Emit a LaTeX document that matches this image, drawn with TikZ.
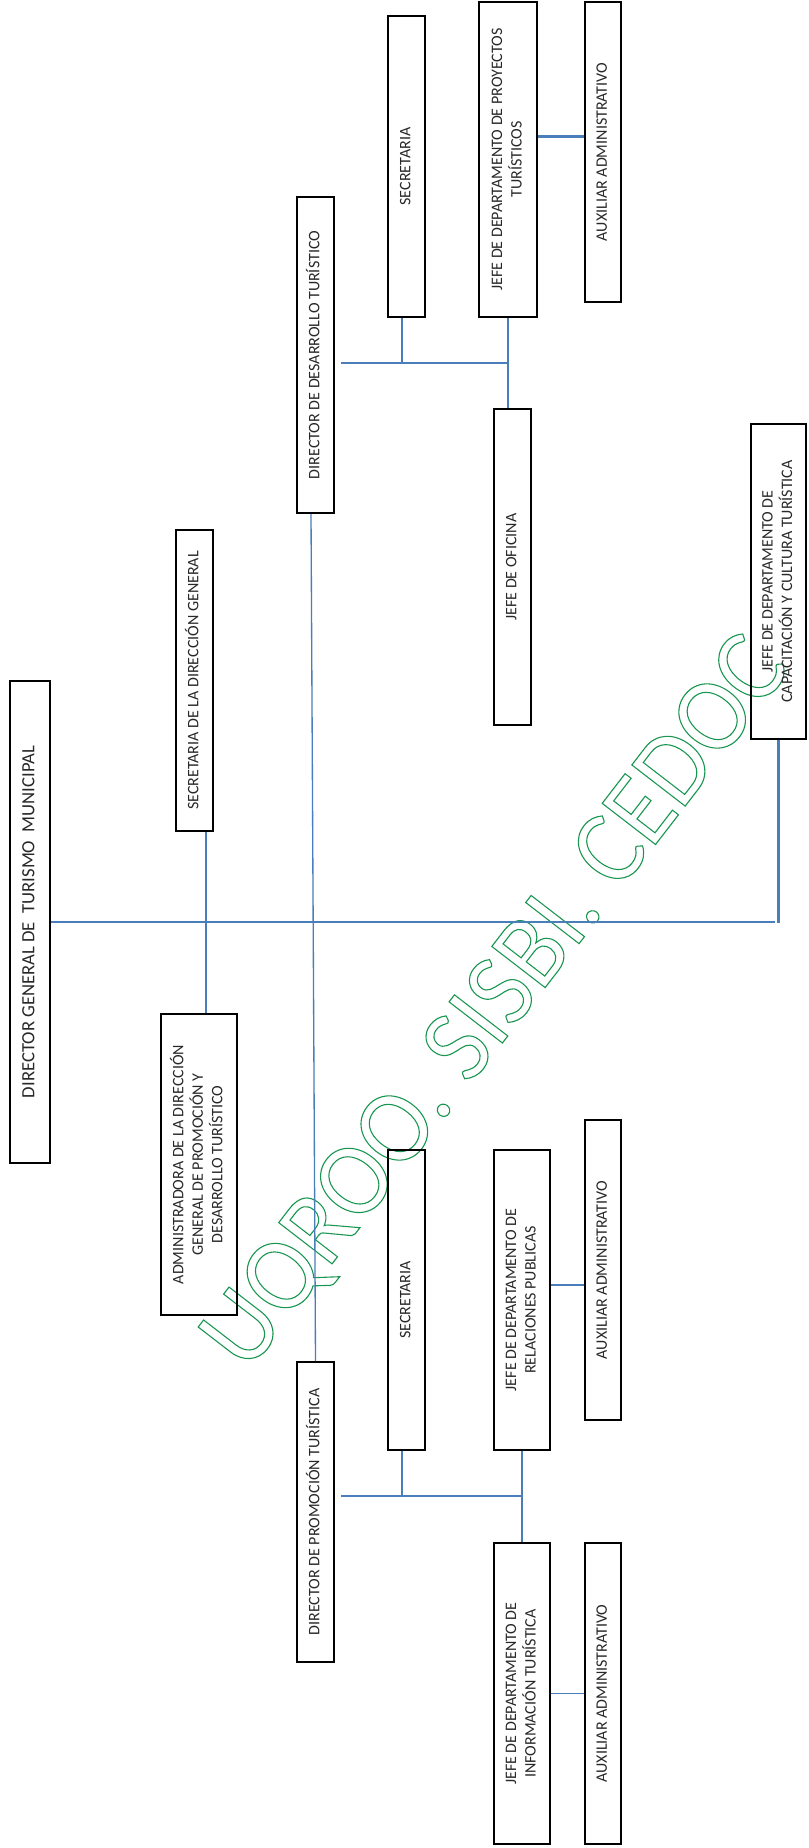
\documentclass[tikz,border=0pt]{standalone}
\usepackage{fontspec}
\setmainfont{Carlito}
\usepackage{graphicx}
\usetikzlibrary{calc}
\definecolor{lineblue}{RGB}{74,126,187}
\definecolor{wmgreen}{RGB}{24,150,80}
\definecolor{boxtext}{RGB}{40,40,40}
\tikzset{
  orgnode/.style={draw=black, line width=1.5pt, inner sep=0pt, align=center,
    text=boxtext, font=\fontsize{12}{14.6}\selectfont},
  bigtext/.style={font=\fontsize{14}{16.8}\selectfont},
  conn/.style={draw=lineblue, line width=1.3pt},
  connthick/.style={draw=lineblue, line width=2pt},
  connthin/.style={draw=lineblue, line width=1pt},
  watermark/.style={text=wmgreen, inner sep=0pt, font=\fontsize{75}{75}\selectfont},
}
% name, x1, x2, y1, y2, extra style, text
\newcommand\orgbox[7]{%
  \pgfmathsetmacro\obcx{(#2+#3)/2}%
  \pgfmathsetmacro\obcy{(#4+#5)/2}%
  \pgfmathsetmacro\obw{(#3-#2-2)*0.75}%
  \pgfmathsetmacro\obh{(#5-#4-2)*0.75}%
  \node[orgnode, #6, minimum width=\obw pt, minimum height=\obh pt] (#1) at (\obcx,\obcy)
    {\rotatebox{90}{\begin{tabular}{@{}c@{}}#7\end{tabular}}};%
}
\begin{document}
\begin{tikzpicture}[x=0.75pt, y=-0.75pt]
\useasboundingbox (0,0) rectangle (809,1848);
\fill[white] (0,0) rectangle (809,1848);

% watermark (outlined text)
\node[watermark, rotate=52.35, yscale=1.05, anchor=base west] (wm) at (247.2,1373.8)
  {\special{pdf:literal direct 1 Tr 0.8 w}UQROO. SISBI. CEDOC\special{pdf:literal direct 0 Tr}};

% boxes
\orgbox{DG}{9}{51}{680}{1164}{bigtext}{DIRECTOR GENERAL DE\ \ TURISMO\ \ MUNICIPAL}
\orgbox{SDG}{175}{214}{529}{832}{}{SECRETARIA DE LA DIRECCIÓN GENERAL}
\orgbox{ADM}{160}{238}{1013}{1316}{}{ADMINISTRADORA DE LA DIRECCIÓN\\GENERAL DE PROMOCIÓN Y\\DESARROLLO TURÍSTICO}
\orgbox{DDT}{296}{335}{196}{514}{}{DIRECTOR DE DESARROLLO TURÍSTICO}
\orgbox{DPT}{296}{335}{1361}{1663}{}{DIRECTOR DE PROMOCIÓN TURÍSTICA}
\orgbox{SECA}{387}{426}{15}{318}{}{SECRETARIA}
\orgbox{JPT}{478}{538}{1}{318}{}{JEFE DE DEPARTAMENTO DE PROYECTOS\\TURÍSTICOS}
\orgbox{AUXA}{584}{622}{1}{303}{}{AUXILIAR ADMINISTRATIVO}
\orgbox{JO}{493}{532}{408}{726}{}{JEFE DE OFICINA}
\orgbox{JCC}{750}{807}{423}{740}{}{JEFE DE DEPARTAMENTO DE\\CAPACITACIÓN Y CULTURA TURÍSTICA}
\orgbox{SECB}{387}{426}{1149}{1451}{}{SECRETARIA}
\orgbox{JRP}{493}{551}{1149}{1451}{}{JEFE DE DEPARTAMENTO DE\\RELACIONES PUBLICAS}
\orgbox{AUXB}{584}{622}{1119}{1421}{}{AUXILIAR ADMINISTRATIVO}
\orgbox{JIT}{493}{551}{1542}{1845}{}{JEFE DE DEPARTAMENTO DE\\INFORMACIÓN TURÍSTICA}
\orgbox{AUXC}{584}{622}{1542}{1845}{}{AUXILIAR ADMINISTRATIVO}

% main bus from the director general to capacitación
\path (JCC.south) ++(-3.5,0) coordinate (busR);
\draw[connthick] (DG.east) -- (DG.east -| busR);
\draw[connthick] (JCC.south) -- ++(0,183);

% secretaria de la dirección general -> administradora
\path (SDG.south) ++(11.5,0) coordinate (sa);
\draw[conn] (sa) -- (sa |- ADM.north);

% desarrollo -> promoción
\path (DDT.south) ++(-4.5,0) coordinate (dd);
\draw[connthin] (dd) -- (DPT.north);

% upper group
\coordinate (ubL) at (341,363);
\draw[conn] (ubL) -- (ubL -| JPT.south);
\path (SECA.south) ++(-4.5,0) coordinate (sA);
\draw[conn] (sA) -- (sA |- ubL);
\draw[conn] (JPT.south) -- (JPT.south |- JO.north);
\path (JPT.east) ++(0,-23) coordinate (ja);
\draw[connthick] (ja) -- (ja -| AUXA.west);

% lower group
\coordinate (lbL) at (341,1496);
\draw[conn] (lbL) -- (lbL -| JRP.south);
\path (SECB.south) ++(-4.5,0) coordinate (sB);
\draw[conn] (sB) -- (sB |- lbL);
\draw[conn] (JRP.south) -- (JRP.south |- JIT.north);
\path (JRP.east) ++(0,-15) coordinate (jr);
\draw[connthick] (jr) -- (jr -| AUXB.west);
\draw[conn] (JIT.east) -- (JIT.east -| AUXC.west);
\end{tikzpicture}
\end{document}
